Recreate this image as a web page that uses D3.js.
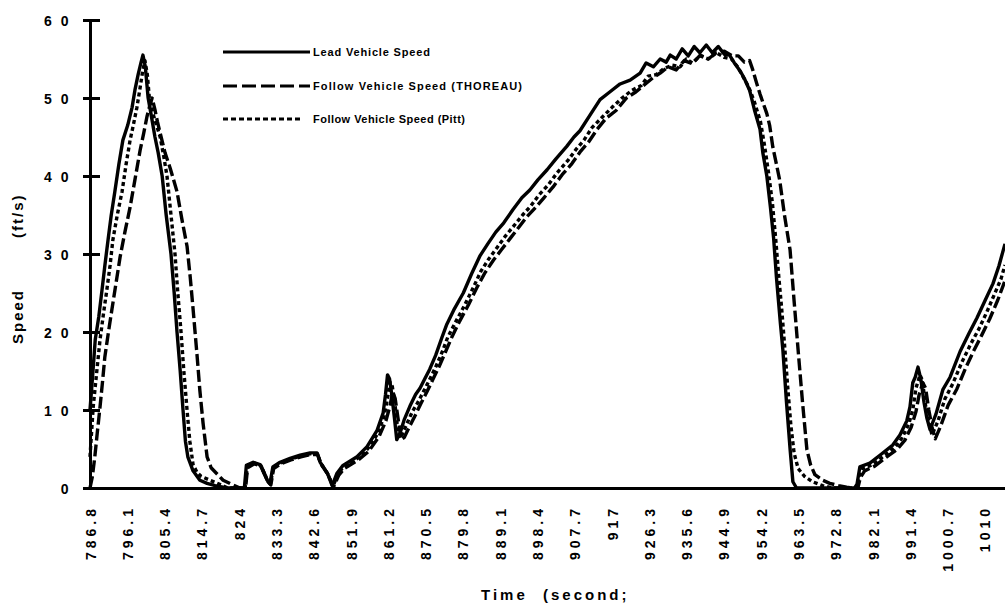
<!DOCTYPE html>
<html>
<head>
<meta charset="utf-8">
<script src="https://cdn.jsdelivr.net/npm/d3@7/dist/d3.min.js"></script>
<style>
  html, body { margin: 0; padding: 0; background: #fff; }
  svg { display: block; }
  text { font-family: "Liberation Sans", Arial, sans-serif; font-weight: bold; fill: #000; }
</style>
</head>
<body>
<svg id="chart" width="1005" height="606"></svg>
<script>
// ---------- data ----------
const xTickLabels = ["786.8","796.1","805.4","814.7","824","833.3","842.6","851.9","861.2","870.5",
  "879.8","889.1","898.4","907.7","917","926.3","935.6","944.9","954.2","963.5","972.8","982.1",
  "991.4","1000.7","1010"];
const yTickValues = [0, 10, 20, 30, 40, 50, 60];
const seriesNames = ["Lead Vehicle Speed", "Follow Vehicle Speed (THOREAU)", "Follow Vehicle Speed (Pitt)"];

const leadTime = [786.8,787.5,788.1,789.0,789.8,790.5,791.3,792.1,793.0,794.0,795.0,796.2,797.3,798.0,798.8,799.5,800.0,800.6,801.3,802.0,803.0,803.8,804.8,805.8,807.0,807.8,808.5,809.3,810.0,810.6,811.2,812.5,814.2,816.0,818.0,821.0,825.3,825.8,827.5,829.2,831.0,831.7,832.4,834.2,836.7,839.2,841.7,843.4,844.2,846.0,847.2,848.4,849.9,853.4,855.9,858.4,859.9,860.5,861.0,861.5,862.0,862.7,863.3,864.1,865.2,866.6,868.0,869.1,870.3,871.5,873.0,874.5,875.8,877.5,879.9,882.0,884.1,886.0,888.0,890.0,892.3,894.5,896.5,898.5,900.8,903.0,905.7,907.5,909.0,911.5,914.0,916.5,919.0,921.5,924.0,925.5,927.3,929.0,930.5,931.5,933.0,934.5,936.0,937.5,938.9,940.5,942.0,943.5,945.0,946.3,947.5,948.9,950.0,951.3,952.5,953.9,954.6,955.6,956.5,957.3,958.0,958.5,959.0,959.6,960.5,961.4,962.1,963.0,977.5,978.1,978.8,981.3,983.8,987.0,988.8,990.5,991.3,992.0,992.6,993.3,994.0,994.8,995.5,996.3,997.8,999.5,1001.3,1003.8,1006.0,1008.0,1010.0,1012.0,1013.5,1015.0];
const leadSpeed = [10,14.7,19,22,25.4,28.5,31.8,35,38,41.5,44.6,46.5,48.8,51,53,54.5,55.5,54,50,48,45,43,40,35,30,25,20,15,10,6,4,2.2,1,0.6,0.3,0,0,2.9,3.3,3,1,0.6,2.7,3.3,3.8,4.2,4.5,4.5,3.3,1.9,0.3,1.9,2.9,4,5.3,7.4,9.6,12,14.5,14,12.2,9.1,6.2,7,8.8,10.5,12,12.8,14,15.2,17,19.2,21,22.8,25,27.5,29.8,31.3,32.8,34,35.7,37.2,38.2,39.5,40.8,42.2,43.8,45,45.8,47.8,49.8,50.8,51.8,52.3,53.2,54.5,54,55,54.6,55.5,55,56.3,55.4,56.6,55.8,56.8,55.8,56.6,55.6,55.5,54.5,53.5,52.5,51,48.5,46,43,40,36,32,27,24,21,17.7,11,5,0.8,0,0,0.5,2.7,3.2,4.2,5.5,6.8,8.6,10.4,13.5,14.2,15.5,14,11,9,7.5,9.5,12.6,14.2,17.5,19.8,21.8,24,26.2,28.5,31.3];

const thoreauTime = [786.8,787.4,788.0,788.6,789.3,789.9,790.5,791.4,792.3,793.3,794.3,795.5,796.8,798.0,799.3,800.2,801.0,801.7,802.3,803.0,803.6,804.3,805.5,806.8,808.5,809.7,811.0,811.8,812.5,813.0,813.5,814.2,815.0,816.0,817.0,818.5,820.0,822.0,824.2,825.6,826.1,827.8,829.5,831.2,831.9,832.6,834.4,836.9,839.4,841.9,843.6,844.4,846.2,847.5,848.8,850.2,853.7,856.3,858.9,860.6,861.6,862.3,862.9,863.6,864.4,865.2,866.4,867.9,869.3,870.8,872.3,873.9,875.5,877.0,879.0,881.2,883.3,885.3,887.4,889.5,891.6,893.7,895.8,898.0,900.0,902.3,904.6,907.0,909.2,911.2,913.3,915.5,918.0,920.6,923.0,925.3,927.2,929.0,931.0,933.0,935.0,937.0,939.0,941.0,943.0,945.0,947.0,948.5,950.0,951.3,952.1,953.0,953.9,955.6,956.3,957.1,958.0,958.8,960.0,961.4,962.4,963.4,964.5,965.6,966.5,967.6,969.5,971.3,973.5,975.5,977.0,978.3,978.9,980.0,982.5,985.0,988.0,990.0,991.6,992.8,993.6,994.5,995.2,996.0,996.8,997.6,999.0,1000.8,1003.0,1005.2,1007.2,1009.2,1011.2,1013.2,1015.0];
const thoreauSpeed = [0,1.5,4,7,10.4,13.5,16.8,20,23,26.3,29.6,32.8,36,39.5,43.3,45.5,47.6,49,50,48.5,47,45.5,43,41,38,34.5,31,27,23,20,17,12.5,8.3,4,2.6,1.8,1,0.5,0,0,2.6,3.1,2.8,0.8,0.4,2.5,3.1,3.6,4,4.3,4.3,3.1,1.7,0.1,1.6,2.5,3.6,4.7,6.6,8.6,10.5,12.3,11.5,9,6.2,6.5,7.8,9.3,10.8,12.3,13.9,15.6,17.5,19.3,21.4,23.5,25.7,27.6,29.2,30.6,32,33.4,34.8,36,37.2,38.6,40.2,41.6,43.2,44.4,46,47.4,48.4,50,50.8,51.8,52.6,53.2,54,53.6,54.8,54.4,55.5,55,55.8,56,55.4,55.4,54.6,54.8,53.6,52,50.5,48,46.5,43.7,41.5,39.5,35,30.5,24,17.7,11,4.9,3,1.7,1,0.6,0.3,0.1,0,0,1.3,2.2,2.8,3.8,4.9,6.1,7.8,9.8,12,13.5,12.8,10,7.8,6.3,8,10.6,12.7,15.4,17.6,19.6,21.7,24.1,26.6];

const pittTime = [786.8,787.6,788.5,789.3,790.2,791.0,791.8,792.5,793.6,794.8,795.8,796.8,797.6,798.5,799.2,799.8,800.5,801.1,801.6,802.5,803.4,804.3,805.2,806.0,807.0,808.0,808.7,809.5,810.2,811.0,811.7,812.5,813.5,814.5,816.7,819.0,821.2,825.5,826.0,827.7,829.4,831.1,831.8,832.5,834.3,836.8,839.3,841.8,843.5,844.3,846.1,847.4,848.6,850.0,853.5,856.0,858.6,860.2,861.0,861.6,862.2,862.8,863.4,863.9,864.6,865.8,867.2,868.6,870.0,871.4,873.0,874.6,876.0,878.0,880.2,882.3,884.3,886.3,888.3,890.4,892.5,894.7,896.8,898.8,901.0,903.3,906.0,908.0,910.0,912.0,914.3,917.0,919.5,922.0,924.3,926.0,928.0,930.0,932.0,934.0,935.5,937.0,939.0,941.0,943.0,945.0,946.8,948.3,949.6,951.0,952.5,954.0,955.0,956.0,957.0,957.8,958.6,959.3,960.0,960.8,961.6,962.4,963.4,965.0,967.0,969.5,972.0,978.1,978.6,979.5,982.0,984.5,987.5,989.3,991.0,992.0,992.8,993.8,994.4,995.2,996.0,996.8,998.3,1000.0,1002.0,1004.3,1006.5,1008.5,1010.5,1012.5,1014.0,1015.0];
const pittSpeed = [4,10.4,15,19,22.5,25.4,28.5,31.8,35,38,41.5,44.6,46.5,48.8,51,53,54.8,53,50,48,46.5,45,42.5,40,35,30,25,20,15,10,6,3,2,1.5,1,0.5,0,0,2.7,3.2,2.9,0.9,0.5,2.6,3.2,3.7,4.1,4.4,4.4,3.2,1.8,0.2,1.8,2.7,3.8,5,7,9.3,11.5,13.6,13,11,8.2,6.4,6.8,8.2,9.8,11,12.4,13.8,15.5,17.4,19.3,21.3,23.4,25.6,27.8,29.4,30.8,32.3,33.6,35,36.2,37.6,38.8,40.4,42,43.4,44.6,46.2,47.4,48.8,50,51,51.6,52.8,53,53.8,54.2,54,55,54.5,55.4,55,55.8,55.2,55,54,52.8,51.5,49.5,47,44,40.5,36.5,32,27,23,18.5,13,8,4.5,2.5,1.5,0.8,0.3,0,0,1.5,2.5,3,4,5.2,6.4,8.2,10,12.8,14.5,13.8,10.5,8.4,6.8,8.6,11.4,13.4,16.2,18.5,20.4,22.6,25,26.8,28.6];

// ---------- layout ----------
const svg = d3.select("#chart");
const x = d3.scaleLinear().domain([786.8, 1015.0]).range([90, 1005]);
const y = d3.scaleLinear().domain([0, 60]).range([488, 20]);

svg.append("clipPath").attr("id", "plotclip")
  .append("rect").attr("x", 84).attr("y", 0).attr("width", 921).attr("height", 491);

const zip = (ts, vs) => ts.map((t, i) => [t, vs[i]]);
const series = [
  { name: seriesNames[0], data: zip(leadTime, leadSpeed), dash: null },
  { name: seriesNames[1], data: zip(thoreauTime, thoreauSpeed), dash: "12,4" },
  { name: seriesNames[2], data: zip(pittTime, pittSpeed), dash: "4,3" }
];

const line = d3.line().x(d => x(d[0])).y(d => y(d[1]));

const plot = svg.append("g").attr("clip-path", "url(#plotclip)");
plot.selectAll("path.series").data(series).enter().append("path")
  .attr("class", "series")
  .attr("d", d => line(d.data))
  .attr("fill", "none")
  .attr("stroke", "#000")
  .attr("stroke-width", 3.4)
  .attr("stroke-linejoin", "round")
  .attr("stroke-dasharray", d => d.dash);

// ---------- axes ----------
const xAxis = d3.axisBottom(x)
  .tickValues(xTickLabels.map(Number))
  .tickSize(0)
  .tickFormat((d, i) => xTickLabels[i]);
const gx = svg.append("g").attr("transform", "translate(0,488)").call(xAxis);
gx.select(".domain").attr("stroke", "#000").attr("stroke-width", 3);
gx.selectAll("text")
  .attr("transform", "rotate(-90)")
  .attr("text-anchor", "end")
  .attr("x", -17)
  .attr("y", 0)
  .attr("dy", "0.36em")
  .style("font-size", "14px")
  .style("letter-spacing", "4px")
  .style("font-family", "'Liberation Sans', Arial, sans-serif")
  .style("font-weight", "bold");

const yAxis = d3.axisLeft(y)
  .tickValues(yTickValues)
  .tickSizeInner(7)
  .tickSizeOuter(0)
  .tickFormat(d => String(d).split("").join(" "));
const gy = svg.append("g").attr("transform", "translate(90,0)").call(yAxis);
gy.select(".domain").attr("stroke", "#000").attr("stroke-width", 3);
gy.selectAll(".tick line").attr("x1", 10).attr("x2", -7).attr("stroke", "#000").attr("stroke-width", 3);
gy.selectAll(".tick text")
  .attr("x", -19)
  .attr("dy", "0.36em")
  .style("font-size", "14px")
  .style("letter-spacing", "2.5px")
  .style("font-family", "'Liberation Sans', Arial, sans-serif")
  .style("font-weight", "bold");

// ---------- axis titles ----------
svg.append("text").attr("x", 481).attr("y", 600)
  .style("font-size", "15px").style("letter-spacing", "3px").text("Time");
svg.append("text").attr("x", 543).attr("y", 600)
  .style("font-size", "15px").style("letter-spacing", "3px").text("(second;");
svg.append("text").attr("transform", "translate(23,344) rotate(-90)")
  .style("font-size", "15px").style("letter-spacing", "2px").text("Speed");
svg.append("text").attr("transform", "translate(23,238) rotate(-90)")
  .style("font-size", "15px").style("letter-spacing", "2px").text("(ft/s)");

// ---------- legend ----------
const legendY = [52, 86, 119];
const legendLen = [117, 209, 152];
const legendLineEnd = [310, 310, 303];
const lg = svg.append("g");
series.forEach((s, i) => {
  lg.append("line")
    .attr("x1", 223).attr("x2", legendLineEnd[i])
    .attr("y1", legendY[i]).attr("y2", legendY[i])
    .attr("stroke", "#000").attr("stroke-width", 3)
    .attr("stroke-dasharray", i === 1 ? "14,5" : (i === 2 ? "5,3" : null));
  lg.append("text")
    .attr("x", 313).attr("y", legendY[i]).attr("dy", "0.35em")
    .attr("textLength", legendLen[i]).attr("lengthAdjust", "spacing")
    .style("font-size", "11px")
    .text(s.name);
});
</script>
</body>
</html>
